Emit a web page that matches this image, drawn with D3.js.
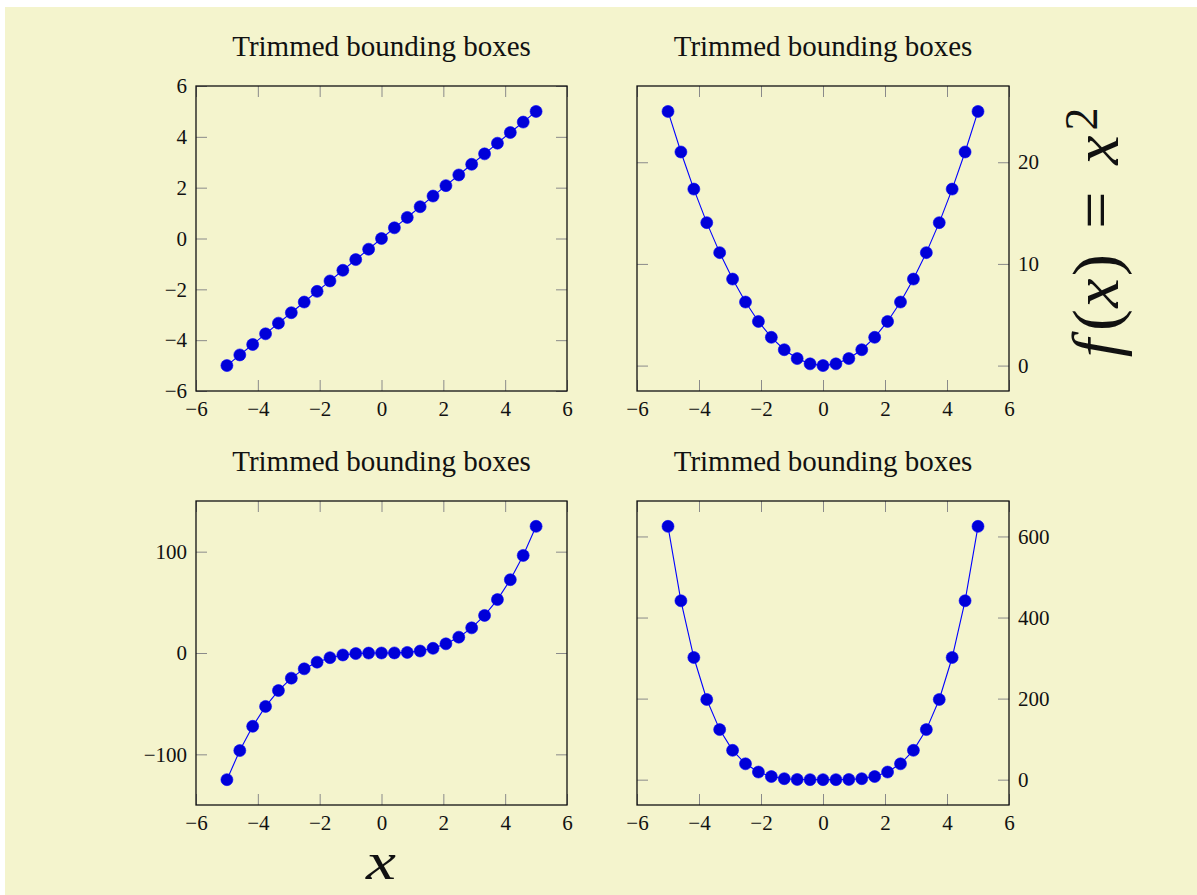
<!DOCTYPE html>
<html><head><meta charset="utf-8">
<script src="https://cdn.jsdelivr.net/npm/d3@7"></script>
<style>
body{margin:0;background:#fff;}
svg{display:block;}
text{font-family:"Liberation Serif","DejaVu Serif",serif;fill:#111;}
</style>
</head><body>
<svg id="c" width="1197" height="895"></svg>
<script>
// ---- data ----
const xValues = [-5,-4.5833,-4.1667,-3.75,-3.3333,-2.9167,-2.5,-2.0833,-1.6667,-1.25,-0.8333,-0.4167,0,0.4167,0.8333,1.25,1.6667,2.0833,2.5,2.9167,3.3333,3.75,4.1667,4.5833,5];
const linearValues = [-5,-4.58,-4.17,-3.75,-3.33,-2.92,-2.5,-2.08,-1.67,-1.25,-0.83,-0.42,0,0.42,0.83,1.25,1.67,2.08,2.5,2.92,3.33,3.75,4.17,4.58,5];
const squareValues = [25,21.01,17.36,14.06,11.11,8.51,6.25,4.34,2.78,1.56,0.69,0.17,0,0.17,0.69,1.56,2.78,4.34,6.25,8.51,11.11,14.06,17.36,21.01,25];
const cubeValues = [-125,-96.28,-72.34,-52.73,-37.04,-24.81,-15.63,-9.04,-4.63,-1.95,-0.58,-0.07,0,0.07,0.58,1.95,4.63,9.04,15.63,24.81,37.04,52.73,72.34,96.28,125];
const quarticValues = [625,441.3,301.4,197.8,123.5,72.4,39.1,18.8,7.7,2.4,0.5,0.03,0,0.03,0.5,2.4,7.7,18.8,39.1,72.4,123.5,197.8,301.4,441.3,625];
const xTicks = [-6,-4,-2,0,2,4,6];
const yTicksLinear = [-6,-4,-2,0,2,4,6];
const yTicksSquare = [0,10,20];
const yTicksCube = [-100,0,100];
const yTicksQuartic = [0,200,400,600];
const panelTitle = "Trimmed bounding boxes";

// ---- layout ----
const svg = d3.select("#c");
svg.append("rect").attr("x",5).attr("y",7).attr("width",1192).attr("height",888).attr("fill","#f4f4cd");

const panels = [
  {vals: linearValues,  yDom:[-6,6],       yTicks:yTicksLinear,  L:196, R:567, T:86,  B:391, side:"left"},
  {vals: squareValues,  yDom:[-2.5,27.5],  yTicks:yTicksSquare,  L:637, R:1009,T:86,  B:391, side:"right"},
  {vals: cubeValues,    yDom:[-150,150],   yTicks:yTicksCube,    L:196, R:567, T:501, B:805, side:"left"},
  {vals: quarticValues, yDom:[-62.5,687.5],yTicks:yTicksQuartic, L:637, R:1009,T:501, B:805, side:"right"}
];
const TL = 11;
const fmt = d => d3.format("")(d).replace("-", "\u2212");

panels.forEach(p => {
  const x = d3.scaleLinear().domain([-6,6]).range([p.L,p.R]);
  const y = d3.scaleLinear().domain(p.yDom).range([p.B,p.T]);
  const g = svg.append("g");

  const styleAxis = sel => {
    sel.select(".domain").remove();
    sel.selectAll(".tick line").attr("stroke","#8a8a8a").attr("stroke-width",1);
    sel.selectAll(".tick text").attr("font-family","Liberation Serif, serif").attr("font-size",21).attr("fill","#111");
  };

  g.append("g").attr("transform",`translate(0,${p.B})`)
    .call(d3.axisBottom(x).tickValues(xTicks).tickSize(-TL).tickPadding(10).tickFormat(fmt)).call(styleAxis);
  g.append("g").attr("transform",`translate(0,${p.T})`)
    .call(d3.axisTop(x).tickValues(xTicks).tickSize(-TL).tickFormat("")).call(styleAxis);
  if (p.side === "left") {
    g.append("g").attr("transform",`translate(${p.L},0)`)
      .call(d3.axisLeft(y).tickValues(p.yTicks).tickSize(-TL).tickPadding(9).tickFormat(fmt)).call(styleAxis);
    g.append("g").attr("transform",`translate(${p.R},0)`)
      .call(d3.axisRight(y).tickValues(p.yTicks).tickSize(-TL).tickFormat("")).call(styleAxis);
  } else {
    g.append("g").attr("transform",`translate(${p.L},0)`)
      .call(d3.axisLeft(y).tickValues(p.yTicks).tickSize(-TL).tickFormat("")).call(styleAxis);
    g.append("g").attr("transform",`translate(${p.R},0)`)
      .call(d3.axisRight(y).tickValues(p.yTicks).tickSize(-TL).tickPadding(9).tickFormat(fmt)).call(styleAxis);
  }

  g.append("rect").attr("x",p.L).attr("y",p.T).attr("width",p.R-p.L).attr("height",p.B-p.T)
    .attr("fill","none").attr("stroke","#111").attr("stroke-width",1.3);

  const pts = xValues.map((xv,i)=>[xv,p.vals[i]]);
  g.append("path").datum(pts)
    .attr("d", d3.line().x(d=>x(d[0])).y(d=>y(d[1])))
    .attr("fill","none").attr("stroke","#0000ff").attr("stroke-width",1.1);
  g.selectAll("circle.m").data(pts).enter().append("circle")
    .attr("cx",d=>x(d[0])).attr("cy",d=>y(d[1])).attr("r",6)
    .attr("fill","#0000d8").attr("stroke","#0000ff").attr("stroke-width",0.6);

  g.append("text").attr("x",(p.L+p.R)/2).attr("y",p.T-30)
    .attr("text-anchor","middle").attr("font-size",29).text(panelTitle);
});

// x label
svg.append("text").attr("x",381).attr("y",879).attr("text-anchor","middle")
  .attr("font-size",52).attr("font-style","italic")
  .attr("textLength",30).attr("lengthAdjust","spacingAndGlyphs").text("x");

// rotated y label f(x) = x^2
const yl = svg.append("g").attr("transform","translate(1118,370) rotate(-90)");
const glyphs = [
  {t:"f", at:22, it:true, fs:66, dy:0},
  {t:"(", at:50, it:false, fs:66, dy:0},
  {t:"x", at:77, it:true, fs:66, dy:0},
  {t:")", at:105, it:false, fs:66, dy:0},
  {t:"=", at:160, it:false, fs:66, dy:0},
  {t:"x", at:220, it:true, fs:66, dy:0},
  {t:"2", at:251, it:false, fs:46, dy:-21}
];
glyphs.forEach(d => {
  yl.append("text").attr("x",d.at).attr("y",d.dy).attr("text-anchor","middle")
    .attr("font-size",d.fs).attr("font-style",d.it?"italic":"normal").text(d.t);
});
</script>
</body></html>
